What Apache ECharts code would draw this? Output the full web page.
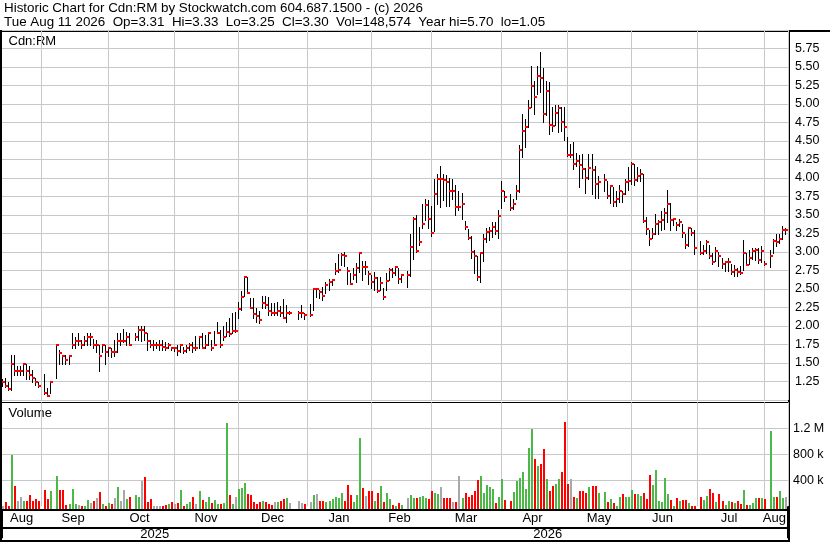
<!DOCTYPE html>
<html>
<head>
<meta charset="utf-8">
<script src="https://cdn.jsdelivr.net/npm/echarts@6/dist/echarts.min.js"></script>
<style>
html,body{margin:0;padding:0;background:#fff;}
#chart{width:830px;height:543px;}
</style>
</head>
<body>
<div id="chart"></div>
<script>
// ---------- DATA ----------
const firstDay = '2025-08-13';
const lastDay = '2026-08-11';
const symbol = 'Cdn:RM';
const lastOpen = 3.31;

// one entry per weekday (holidays / no trade = null)
const highs = [
  // Aug 2025
  1.28,1.30,1.25,1.61,1.61,1.46,1.46,1.49,1.49,1.46,1.40,1.30,1.25,
  // Sep
  null,1.35,1.16,1.25,null,1.76,1.67,1.61,1.61,1.61,1.90,1.85,1.90,1.81,1.87,1.90,1.90,1.82,1.81,1.75,1.75,1.75,
  // Oct
  1.72,1.70,1.81,1.90,1.90,1.96,1.92,1.90,null,1.90,2.00,2.00,2.00,1.90,1.81,1.81,1.79,1.81,1.81,1.79,1.77,1.72,1.72,
  // Nov
  1.74,1.74,1.72,1.74,1.77,1.79,1.86,1.86,1.90,1.88,1.90,1.81,1.93,2.06,1.94,2.00,2.06,2.11,2.17,2.19,
  // Dec
  2.33,2.47,2.68,2.66,2.38,2.38,2.24,2.20,2.40,2.40,2.39,2.31,2.31,2.33,2.27,2.36,2.29,2.20,null,null,2.20,2.29,2.18,
  // Jan 2026
  null,2.30,2.51,2.52,2.48,2.53,2.60,2.64,2.63,2.85,2.97,2.99,3.00,2.80,2.71,2.79,2.85,3.00,2.88,2.88,2.75,2.69,
  // Feb
  2.73,2.66,2.66,2.51,2.71,2.78,2.78,2.81,2.79,2.70,null,2.74,3.24,3.47,3.50,3.34,3.65,3.71,3.70,3.62,
  // Mar
  3.99,4.06,4.16,4.06,4.04,4.00,3.99,3.90,3.82,3.80,3.42,3.31,3.22,3.03,2.94,2.98,3.25,3.33,3.34,3.40,3.40,3.57,
  // Apr
  3.96,3.83,null,3.78,3.72,3.90,4.45,4.87,4.80,5.05,5.51,5.31,5.51,5.70,5.48,5.31,5.30,4.96,4.98,4.98,4.96,4.96,
  // May
  4.55,4.46,4.48,4.34,4.31,4.33,4.14,4.33,4.33,4.16,4.03,null,4.05,3.96,3.91,3.88,3.82,3.90,3.82,3.99,4.15,
  // Jun
  4.22,4.19,4.15,4.12,4.05,3.47,3.30,3.33,3.52,3.43,3.55,3.60,3.84,3.66,3.46,3.41,3.45,3.38,3.25,3.34,3.32,3.30,
  // Jul
  null,3.15,3.10,3.16,3.09,2.99,3.07,3.00,2.92,2.88,2.92,2.84,2.82,2.78,2.81,3.16,2.99,3.03,3.05,3.05,3.06,3.08,2.88,
  // Aug
  null,3.03,3.17,3.24,3.25,3.35,3.33
];
const lows = [
  1.19,1.17,1.14,1.14,1.34,1.34,1.34,1.34,1.29,1.29,1.25,1.20,1.18,
  null,1.08,1.05,1.10,null,1.30,1.49,1.49,1.49,1.49,1.70,1.70,1.74,1.70,1.74,1.74,1.74,1.70,1.65,1.39,1.65,1.49,
  1.60,1.58,1.60,1.65,1.74,1.79,1.74,1.74,null,1.81,1.81,1.80,1.81,1.67,1.71,1.67,1.70,1.67,1.67,1.67,1.70,1.67,1.66,
  1.61,1.65,1.64,1.65,1.67,1.65,1.67,1.70,1.70,1.70,1.75,1.67,1.75,1.90,1.72,1.81,1.86,1.87,1.91,1.92,
  2.11,2.22,2.40,2.44,2.24,2.11,2.06,2.04,2.24,2.24,2.15,2.15,2.15,2.15,2.13,2.11,2.06,2.16,null,null,2.10,2.12,2.10,
  null,2.14,2.21,2.39,2.38,2.35,2.44,2.48,2.55,2.70,2.73,2.82,2.81,2.57,2.57,2.64,2.60,2.73,2.62,2.70,2.57,2.51,
  2.48,2.46,2.48,2.37,2.48,2.62,2.66,2.69,2.58,2.60,null,2.53,2.67,2.91,3.00,3.09,3.32,3.43,3.32,3.22,
  3.29,3.65,3.61,3.70,3.62,3.62,3.72,3.50,3.57,3.44,3.31,3.17,2.92,2.71,2.62,2.60,2.88,3.13,3.16,3.20,3.24,3.19,
  3.60,3.69,null,3.57,3.58,3.72,3.81,4.28,4.42,4.69,4.96,4.87,5.14,5.16,4.76,4.85,4.60,4.64,4.71,4.62,4.64,4.51,
  4.30,4.28,4.12,4.16,3.88,4.00,3.80,3.98,3.79,3.73,3.73,null,3.83,3.73,3.66,3.62,3.62,3.68,3.68,3.78,3.84,
  3.92,3.90,3.96,3.96,3.40,3.24,3.09,3.19,3.24,3.25,3.30,3.31,3.40,3.30,3.36,3.30,3.35,3.20,3.05,3.08,3.23,2.97,
  null,2.97,2.97,2.99,2.92,2.84,2.88,2.81,2.78,2.75,2.75,2.70,2.68,2.68,2.70,2.76,2.83,2.84,2.90,2.89,2.85,2.86,2.82,
  null,2.80,2.98,3.08,3.12,3.18,3.25
];
const closes = [
  1.25,1.19,1.15,1.49,1.39,1.39,1.39,1.49,1.39,1.34,1.30,1.25,1.19,
  null,1.09,1.06,1.25,null,1.75,1.64,1.60,1.54,1.60,1.75,1.80,1.80,1.75,1.80,1.85,1.85,1.75,1.75,1.60,1.75,1.65,
  1.70,1.65,1.65,1.80,1.80,1.80,1.85,1.75,null,1.85,1.95,1.95,1.90,1.80,1.75,1.75,1.75,1.75,1.72,1.70,1.75,1.70,1.70,
  1.66,1.75,1.66,1.70,1.75,1.70,1.70,1.85,1.70,1.75,1.90,1.70,1.75,1.90,1.74,1.85,1.92,1.89,1.93,1.93,
  2.23,2.39,2.66,2.44,2.24,2.16,2.14,2.08,2.31,2.29,2.20,2.17,2.17,2.20,2.18,2.11,2.18,2.18,null,null,2.18,2.18,2.15,
  null,2.15,2.50,2.50,2.46,2.40,2.56,2.60,2.62,2.75,2.76,2.96,2.95,2.75,2.57,2.69,2.78,2.99,2.80,2.80,2.70,2.60,
  2.65,2.47,2.58,2.39,2.61,2.76,2.72,2.80,2.64,2.69,null,2.69,3.07,3.45,3.02,3.14,3.38,3.63,3.45,3.26,
  3.79,3.99,3.99,3.97,3.94,3.83,3.83,3.61,3.61,3.65,3.34,3.19,3.00,2.94,2.66,2.98,3.18,3.27,3.29,3.34,3.28,3.49,
  3.83,3.74,null,3.60,3.65,3.83,4.38,4.64,4.69,4.94,5.24,5.09,5.38,5.35,4.86,5.18,4.72,4.70,4.88,4.94,4.76,4.69,
  4.31,4.31,4.19,4.23,4.18,4.12,4.00,4.13,4.11,3.92,3.94,null,3.97,3.75,3.89,3.68,3.71,3.83,3.78,3.95,3.96,
  4.19,3.97,4.03,4.05,3.42,3.31,3.18,3.24,3.38,3.41,3.43,3.53,3.65,3.43,3.45,3.37,3.40,3.26,3.10,3.33,3.26,3.06,
  null,2.99,3.02,3.14,2.95,2.87,3.02,2.94,2.84,2.86,2.87,2.73,2.76,2.73,2.71,2.98,2.83,2.92,3.01,3.03,2.89,3.01,2.84,
  null,2.95,3.15,3.13,3.18,3.30,3.30
];
const volumes = [
  8000,62000,10000,790000,313000,82000,144000,82000,82000,174000,82000,113000,82000,
  null,251000,113000,236000,null,467000,251000,251000,15000,36000,267000,36000,20000,10000,10000,97000,56000,82000,123000,220000,36000,8000,
  46000,36000,128000,297000,82000,251000,113000,144000,null,174000,149000,390000,451000,72000,113000,8000,8000,5000,8000,20000,31000,62000,36000,
  51000,251000,8000,41000,72000,144000,36000,236000,97000,62000,144000,46000,97000,31000,41000,46000,1287000,174000,36000,149000,
  267000,282000,359000,190000,174000,72000,41000,72000,82000,72000,41000,20000,62000,72000,87000,113000,128000,56000,null,null,82000,51000,41000,
  null,67000,174000,190000,82000,82000,72000,82000,113000,144000,123000,210000,82000,328000,174000,72000,174000,1046000,282000,164000,236000,236000,
  82000,210000,313000,72000,205000,113000,20000,10000,46000,20000,null,133000,174000,123000,133000,149000,164000,133000,113000,236000,
  210000,190000,297000,133000,133000,133000,67000,67000,467000,133000,205000,149000,174000,236000,405000,467000,205000,328000,297000,267000,56000,149000,
  420000,97000,null,87000,220000,390000,436000,528000,267000,897000,1190000,728000,620000,651000,882000,420000,236000,313000,344000,420000,528000,1297000,
  344000,420000,149000,128000,236000,236000,205000,297000,313000,313000,205000,null,220000,67000,113000,51000,8000,144000,190000,144000,149000,
  251000,190000,190000,164000,205000,113000,482000,328000,559000,82000,67000,436000,190000,97000,8000,128000,82000,97000,97000,51000,8000,8000,
  null,144000,97000,159000,267000,205000,62000,190000,82000,20000,82000,72000,51000,82000,41000,251000,20000,20000,51000,128000,128000,128000,113000,
  null,1159000,144000,144000,236000,128000,148574
];

// axis ticks
const priceMin = 1.00, priceMax = 6.00, priceStep = 0.25;
const volMin = 0, volMax = 1600000, volStep = 400000;
const monthAbbr = ['Jan','Feb','Mar','Apr','May','Jun','Jul','Aug','Sep','Oct','Nov','Dec'];

// ---------- CATEGORIES (every weekday) ----------
function weekdayList(start, end) {
  const out = [];
  const d = new Date(start + 'T00:00:00Z');
  const e = new Date(end + 'T00:00:00Z');
  while (d <= e) {
    const wd = d.getUTCDay();
    if (wd !== 0 && wd !== 6) out.push(d.toISOString().slice(0, 10));
    d.setUTCDate(d.getUTCDate() + 1);
  }
  return out;
}
const categories = weekdayList(firstDay, lastDay);
const N = categories.length;

// month boundaries (gridlines) and label positions
const boundaries = [];
let yearBoundary = -1;
for (let i = 1; i < N; i++) {
  if (categories[i].slice(0, 7) !== categories[i - 1].slice(0, 7)) {
    const day = +categories[i].slice(8, 10);
    boundaries.push(day === 1 ? i : i - 1);
  }
  if (categories[i].slice(0, 4) !== categories[i - 1].slice(0, 4)) yearBoundary = i;
}
const boundarySet = new Set(boundaries);
const edges = [0].concat(boundaries, [N]);
const monthLabelSet = new Set();
for (let k = 0; k < edges.length - 1; k++) monthLabelSet.add(Math.floor((edges[k] + edges[k + 1] - 1) / 2));
const yearLabelSet = new Set([Math.floor((yearBoundary - 1) / 2), Math.floor((yearBoundary + N - 1) / 2)]);

// ---------- SERIES ROWS ----------
const priceRows = [];
const volRows = [];
let prevClose = null;
for (let i = 0; i < N; i++) {
  if (closes[i] == null) continue;
  priceRows.push([i, highs[i], lows[i], closes[i]]);
  let dir = 0;
  if (prevClose != null) dir = closes[i] > prevClose ? 1 : (closes[i] < prevClose ? -1 : 0);
  if (volumes[i] != null) volRows.push([i, volumes[i], dir]);
  prevClose = closes[i];
}
const lastRow = priceRows[priceRows.length - 1];
const yearHi = Math.max.apply(null, highs.filter(v => v != null));
const yearLo = Math.min.apply(null, lows.filter(v => v != null));
const lastDate = new Date(categories[lastRow[0]] + 'T00:00:00Z');
const dayNames = ['Sun','Mon','Tue','Wed','Thu','Fri','Sat'];
const headerLine2 = dayNames[lastDate.getUTCDay()] + ' ' + monthAbbr[lastDate.getUTCMonth()] + ' ' +
  lastDate.getUTCDate() + ' ' + lastDate.getUTCFullYear() +
  '  Op=' + lastOpen.toFixed(2) + '  Hi=' + lastRow[1].toFixed(2) + '  Lo=' + lastRow[2].toFixed(2) +
  '  Cl=' + lastRow[3].toFixed(2) + '  Vol=' + volumes[lastRow[0]].toLocaleString('en-US') +
  '  Year hi=' + yearHi.toFixed(2) + '  lo=' + yearLo.toFixed(2);

// ---------- CHART ----------
const FONT = '"Liberation Sans", Arial, Helvetica, sans-serif';
const GRID = '#c8c8c8';
const UP = '#4cb848', DOWN = '#ff0000', FLAT = '#a8a8a8';

const chart = echarts.init(document.getElementById('chart'), null, {renderer: 'canvas', width: 830, height: 543});

const option = {
  animation: false,
  backgroundColor: '#fff',
  grid: [
    {left: 2, width: 786, top: 30, height: 370},
    {left: 2, width: 786, top: 402.3, height: 104}
  ],
  xAxis: [
    {
      gridIndex: 0, type: 'category', data: categories, boundaryGap: true,
      axisLine: {show: false}, axisTick: {show: false}, axisLabel: {show: false},
      splitLine: {show: true, interval: (i) => boundarySet.has(i), lineStyle: {color: GRID, width: 1}}
    },
    {
      gridIndex: 1, type: 'category', data: categories, boundaryGap: true, position: 'bottom', offset: 3,
      axisLine: {show: false},
      axisTick: {show: true, interval: (i) => i === yearBoundary, length: 32, lineStyle: {color: '#000', width: 2}},
      axisLabel: {
        show: true, interval: (i) => monthLabelSet.has(i),
        formatter: (v) => monthAbbr[+v.slice(5, 7) - 1],
        margin: 3, fontSize: 13, color: '#000', fontFamily: FONT
      },
      splitLine: {show: true, interval: (i) => boundarySet.has(i), lineStyle: {color: GRID, width: 1}}
    },
    {
      gridIndex: 1, type: 'category', data: categories, boundaryGap: true, position: 'bottom', offset: 21,
      axisLine: {show: false}, axisTick: {show: false},
      axisLabel: {
        show: true, interval: (i) => yearLabelSet.has(i),
        formatter: (v) => v.slice(0, 4),
        margin: 1, fontSize: 13, color: '#000', fontFamily: FONT
      },
      splitLine: {show: false}
    }
  ],
  yAxis: [
    {
      gridIndex: 0, type: 'value', position: 'right', min: priceMin, max: priceMax, interval: priceStep,
      axisLine: {show: false}, axisTick: {show: false},
      splitLine: {show: true, lineStyle: {color: GRID, width: 1}},
      axisLabel: {
        formatter: (v) => (v <= priceMin + 1e-9 || v >= priceMax - 1e-9) ? '' : v.toFixed(2),
        margin: 7, fontSize: 12.5, color: '#000', fontFamily: FONT, align: 'left'
      }
    },
    {
      gridIndex: 1, type: 'value', position: 'right', min: volMin, max: volMax, interval: volStep,
      axisLine: {show: false}, axisTick: {show: false},
      splitLine: {show: true, lineStyle: {color: ['rgba(0,0,0,0)', GRID, GRID, GRID, 'rgba(0,0,0,0)'], width: 1}},
      axisLabel: {
        formatter: (v) => (v <= volMin || v >= volMax) ? '' : (v >= 1e6 ? (v / 1e6).toFixed(1) + ' M' : (v / 1000) + ' k'),
        margin: 5, fontSize: 12.5, color: '#000', fontFamily: FONT, align: 'left'
      }
    }
  ],
  series: [
    {
      type: 'custom', name: 'Price', xAxisIndex: 0, yAxisIndex: 0, clip: true,
      data: priceRows, encode: {x: 0, y: [1, 2, 3]},
      renderItem: function (params, api) {
        const i = api.value(0);
        const ph = api.coord([i, api.value(1)]);
        const pl = api.coord([i, api.value(2)]);
        const pc = api.coord([i, api.value(3)]);
        const x = Math.round(ph[0] - 1.5);
        const top = Math.round(ph[1]);
        const bot = Math.round(pl[1]);
        return {
          type: 'group',
          children: [
            {type: 'rect', shape: {x: x, y: top, width: 1, height: Math.max(1, bot - top + 1)}, style: {fill: '#000'}},
            {type: 'rect', shape: {x: x, y: Math.round(pc[1]) - 1, width: 3, height: 2}, style: {fill: '#ff0000'}}
          ]
        };
      }
    },
    {
      type: 'custom', name: 'Volume', xAxisIndex: 1, yAxisIndex: 1, clip: false,
      data: volRows, encode: {x: 0, y: 1},
      renderItem: function (params, api) {
        const i = api.value(0);
        const d = api.value(2);
        const pt = api.coord([i, api.value(1)]);
        const base = params.coordSys.y + params.coordSys.height + 3;
        const x = Math.round(pt[0] - 1.5);
        const top = Math.round(pt[1]);
        return {
          type: 'rect',
          shape: {x: x, y: top, width: 2, height: Math.max(1, Math.round(base) - top)},
          style: {fill: d > 0 ? UP : (d < 0 ? DOWN : FLAT)}
        };
      }
    }
  ],
  graphic: [
    {type: 'text', x: 4, y: 8.8, style: {text: 'Historic Chart for ' + symbol + ' by Stockwatch.com 604.687.1500 - (c) 2026', font: '13.4px ' + FONT, fill: '#000', verticalAlign: 'middle'}},
    {type: 'text', x: 4, y: 22.8, style: {text: headerLine2, font: '13.4px ' + FONT, fill: '#000', verticalAlign: 'middle'}},
    {type: 'text', x: 8.5, y: 41.5, style: {text: symbol, font: '13px ' + FONT, fill: '#000', verticalAlign: 'middle'}},
    {type: 'text', x: 8.5, y: 413.2, style: {text: 'Volume', font: '13px ' + FONT, fill: '#000', verticalAlign: 'middle'}},
    // frame lines
    {type: 'rect', shape: {x: 0, y: 30, width: 830, height: 2}, style: {fill: '#000'}},
    {type: 'rect', shape: {x: 0, y: 30, width: 2, height: 512}, style: {fill: '#000'}},
    {type: 'rect', shape: {x: 788, y: 30, width: 2, height: 512}, style: {fill: '#000'}},
    {type: 'rect', shape: {x: 2, y: 400, width: 786, height: 1}, style: {fill: '#000'}},
    {type: 'rect', shape: {x: 2, y: 402, width: 786, height: 1}, style: {fill: '#000'}},
    {type: 'rect', shape: {x: 0, y: 509, width: 790, height: 2}, style: {fill: '#000'}},
    {type: 'rect', shape: {x: 0, y: 527, width: 790, height: 2}, style: {fill: '#000'}},
    {type: 'rect', shape: {x: 0, y: 540, width: 790, height: 2}, style: {fill: '#000'}}
  ]
};
chart.setOption(option);
</script>
</body>
</html>
